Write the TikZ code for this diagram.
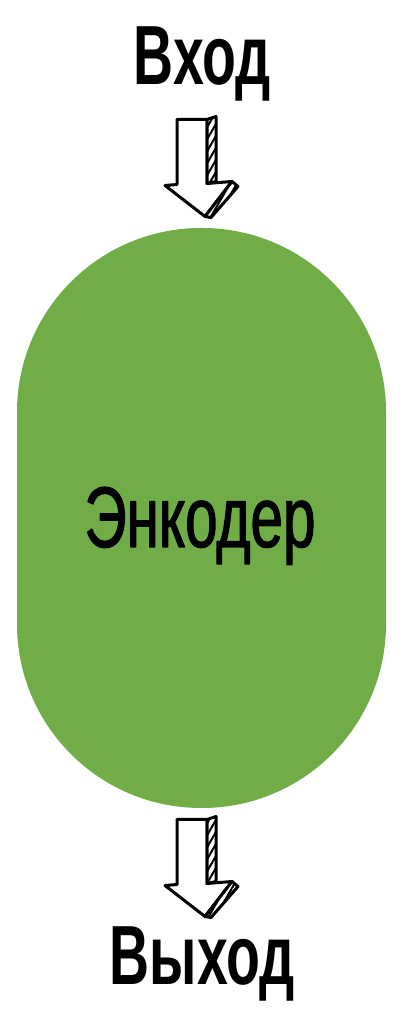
\documentclass[tikz,border=0pt]{standalone}
\usepackage{fontspec}
\setmainfont{Liberation Sans}
\newfontfamily\narrowfont[FakeStretch=0.66]{Liberation Sans}
\newfontfamily\encfont[FakeStretch=0.68,FakeBold=1.3]{Liberation Sans}
\usetikzlibrary{patterns.meta}
\definecolor{encgreen}{HTML}{70AD47}
\tikzset{
  iolabel/.style={font=\narrowfont\bfseries\fontsize{84pt}{84pt}\selectfont, inner sep=0pt},
  enclabel/.style={font=\encfont\fontsize{86pt}{86pt}\selectfont, inner sep=0pt},
  encbody/.style={fill=encgreen, minimum width=369pt, minimum height=580pt,
    inner sep=0pt, rounded corners=184pt},
  hatched/.style={fill=white, postaction={pattern={Lines[angle=60,distance=6pt,line width=2pt]}}},
  blockarrow/.pic={
    \filldraw[fill=white] (-28,97) -- (2,97) -- (2,33) -- (27,35) -- (0,0)
      -- (-40,31) -- (-28,32) -- cycle;
    \draw[hatched] (2,97) -- (11,100) -- (11,35) -- (2,33) -- cycle;
    \draw[hatched] (27,35) -- (33,30) -- (6,-1) -- (0,0) -- cycle;
  }
}
\begin{document}
\begin{tikzpicture}[x=1pt, y=1pt, line width=3pt, line join=round]
  \useasboundingbox (0,0) rectangle (404,1014);
  % body
  \node[encbody] (enc) at (201.5,496) {};
  \node[enclabel, anchor=base] (name) at (200,467) {Энкодер};
  % input and output
  \node[iolabel, anchor=base] (input) at (202.5,929) {Вход};
  \node[iolabel, anchor=base] (output) at (202.5,29) {Выход};
  % arrows
  \pic at ([xshift=3.5pt, yshift=10pt]enc.north) {blockarrow};
  \pic at ([xshift=3.5pt, yshift=-107pt]enc.south) {blockarrow};
\end{tikzpicture}
\end{document}
